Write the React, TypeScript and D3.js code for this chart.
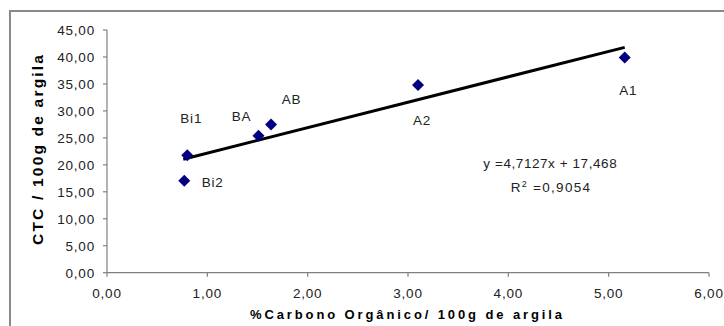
import React from "react";
import * as d3 from "d3";

const horizons = ["Bi1", "Bi2", "BA", "AB", "A2", "A1"];
const carbonPct = [0.8, 0.77, 1.51, 1.635, 3.1, 5.16];
const ctcValues = [21.8, 17.05, 25.4, 27.5, 34.8, 39.9];
const xTicks = [0, 1, 2, 3, 4, 5, 6];
const yTicks = [0, 5, 10, 15, 20, 25, 30, 35, 40, 45];
const slope = 4.7127;
const intercept = 17.468;
const rSquared = 0.9054;
const xTitle = "%Carbono Orgânico/ 100g de argila";
const yTitle = "CTC / 100g de argila";

// label placement (styling, relative to each point)
const labelOffsets: Record<string, { dx: number; dy: number; anchor: string }> = {
  Bi1: { dx: 4, dy: -32, anchor: "middle" },
  Bi2: { dx: 17.5, dy: 6, anchor: "start" },
  BA: { dx: -17, dy: -15, anchor: "middle" },
  AB: { dx: 20.5, dy: -20.5, anchor: "middle" },
  A2: { dx: 4, dy: 40, anchor: "middle" },
  A1: { dx: 3.5, dy: 37, anchor: "middle" },
};

const fmt = (v: number) => v.toFixed(2).replace(".", ",");
const FONT = "'Liberation Sans', Arial, sans-serif";

export default function App() {
  const W = 724;
  const H = 326;
  const x = d3.scaleLinear().domain([0, 6]).range([107, 709]);
  const y = d3.scaleLinear().domain([0, 45]).range([272.7, 30]);

  const xMin = d3.min(carbonPct) as number;
  const xMax = d3.max(carbonPct) as number;
  const trend = d3
    .line<number>()
    .x((d) => x(d))
    .y((d) => y(slope * d + intercept));

  const diamond = (cx: number, cy: number, r: number) =>
    `M${cx},${cy - r}L${cx + r},${cy}L${cx},${cy + r}L${cx - r},${cy}Z`;

  const eqText = `y =${String(slope).replace(".", ",")}x + ${String(intercept).replace(".", ",")}`;

  return (
    <svg
      width={W}
      height={H}
      style={{ position: "absolute", left: 0, top: 0, background: "#fff" }}
      fontFamily={FONT}
    >
      <rect x={0} y={0} width={W} height={H} fill="#fff" />
      {/* outer chart border */}
      <rect x={10} y={11} width={900} height={500} fill="none" stroke="#8a8a8a" strokeWidth={2} />

      {/* axes */}
      <line x1={x(0)} x2={x(0)} y1={y(45)} y2={y(0)} stroke="#808080" strokeWidth={1.2} />
      <line x1={x(0)} x2={x(6)} y1={y(0)} y2={y(0)} stroke="#808080" strokeWidth={1.2} />
      {yTicks.map((t) => (
        <g key={"y" + t}>
          <line x1={x(0) - 4} x2={x(0)} y1={y(t)} y2={y(t)} stroke="#808080" strokeWidth={1.2} />
          <text
            x={95}
            y={y(t)}
            dy="0.36em"
            textAnchor="end"
            fontSize={13.5}
            letterSpacing={0.8}
            fill="#222"
          >
            {fmt(t)}
          </text>
        </g>
      ))}
      {xTicks.map((t) => (
        <g key={"x" + t}>
          <line x1={x(t)} x2={x(t)} y1={y(0)} y2={y(0) + 4} stroke="#808080" strokeWidth={1.2} />
          <text
            x={x(t)}
            y={298}
            textAnchor="middle"
            fontSize={13.5}
            letterSpacing={0.8}
            fill="#222"
          >
            {fmt(t)}
          </text>
        </g>
      ))}

      {/* titles */}
      <text
        x={406}
        y={319}
        textAnchor="middle"
        fontSize={13}
        fontWeight="bold"
        textLength={312}
        lengthAdjust="spacing"
        fill="#000"
      >
        {xTitle}
      </text>
      <text
        transform={`translate(43.3,150) rotate(-90)`}
        textAnchor="middle"
        fontSize={15.5}
        fontWeight="bold"
        textLength={190}
        lengthAdjust="spacing"
        fill="#000"
      >
        {yTitle}
      </text>

      {/* trend line */}
      <path d={trend([xMin - 0.01, xMax]) || ""} fill="none" stroke="#000" strokeWidth={3} />

      {/* points */}
      {carbonPct.map((cx, i) => (
        <path key={"p" + i} d={diamond(x(cx), y(ctcValues[i]), 6)} fill="#000080" />
      ))}

      {/* point labels */}
      {horizons.map((h, i) => {
        const o = labelOffsets[h];
        return (
          <text
            key={"l" + h}
            x={x(carbonPct[i]) + o.dx}
            y={y(ctcValues[i]) + o.dy}
            textAnchor={o.anchor}
            fontSize={13.5}
            letterSpacing={0.8}
            fill="#222"
          >
            {h}
          </text>
        );
      })}

      {/* equation */}
      <text x={483.3} y={168.3} fontSize={13.5} textLength={133.4} lengthAdjust="spacing" fill="#222">
        {eqText}
      </text>
      <text x={510.7} y={192.3} fontSize={13.5} fill="#222" textLength={79.3} lengthAdjust="spacing">
        R<tspan dy={-5} fontSize={9}>2</tspan>
        <tspan dy={5}>{` =${String(rSquared).replace(".", ",")}`}</tspan>
      </text>
    </svg>
  );
}
